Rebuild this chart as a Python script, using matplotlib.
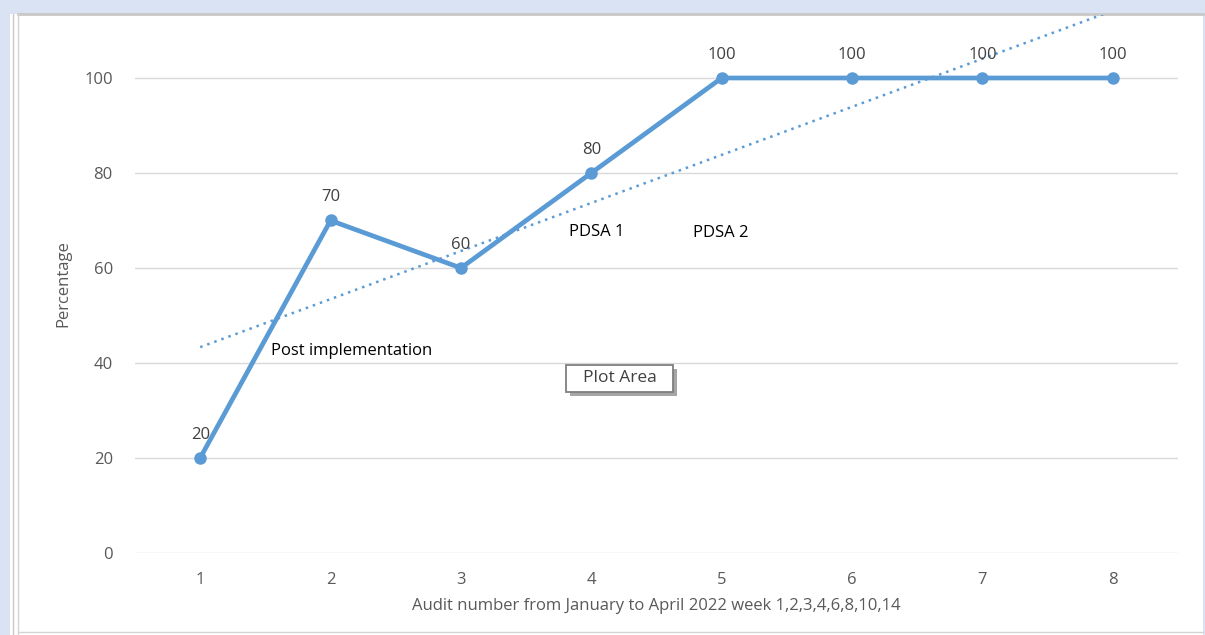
import numpy as np
import matplotlib.pyplot as plt
from matplotlib.patches import Rectangle

# audit data
audits = [1, 2, 3, 4, 5, 6, 7, 8]
percent = [20, 70, 60, 80, 100, 100, 100, 100]
yticks = [0, 20, 40, 60, 80, 100]

blue = '#5b9bd5'
grey_txt = '#595959'
plt.rcParams['font.family'] = ['Open Sans', 'DejaVu Sans']

fig = plt.figure(figsize=(12.05, 6.35), dpi=100, facecolor='#dae3f3')

# white chart area like the excel window
W, H = 1205, 635
fig.add_artist(Rectangle((10 / W, 0), 1193 / W, 621 / H, transform=fig.transFigure,
                         facecolor='white', edgecolor='none', zorder=-5))
fig.add_artist(plt.Line2D([18 / W, 1203 / W], [621 / H, 621 / H], color='#c8c8c8', lw=2, zorder=-4))
fig.add_artist(plt.Line2D([13 / W, 13 / W], [0, 621 / H], color='#c8c8c8', lw=1, zorder=-4))
fig.add_artist(plt.Line2D([18 / W, 18 / W], [0, 621 / H], color='#d4d4d4', lw=1, zorder=-4))
fig.add_artist(plt.Line2D([18 / W, 1203 / W], [3 / H, 3 / H], color='#d4d4d4', lw=1, zorder=-4))

ax = fig.add_axes([135 / W, 82 / H, 1043 / W, 538 / H], zorder=1)
ax.set_facecolor('none')
ax.set_xlim(0.5, 8.5)
ax.set_ylim(0, 113.26)
for s in ax.spines.values():
    s.set_visible(False)

ax.set_yticks(yticks)
ax.set_xticks(audits)
ax.tick_params(length=0, labelsize=12, labelcolor=grey_txt, pad=14)
ax.tick_params(axis='y', pad=16)
ax.grid(axis='y', color='#d9d9d9', lw=1)
ax.set_axisbelow(True)

# linear trendline
k, b = np.polyfit(audits, percent, 1)
xt = np.array([audits[0], audits[-1]])
ax.plot(xt, k * xt + b, ls=(0, (1, 2)), color=blue, lw=1.8, zorder=2)

ax.plot(audits, percent, color=blue, lw=3.4, marker='o', ms=8, zorder=3)
for x, y in zip(audits, percent):
    ax.annotate(str(y), (x, y), xytext=(0, 11), textcoords='offset points',
                ha='center', va='bottom', fontsize=12, color='#404040')

ax.set_ylabel('Percentage', fontsize=12, color=grey_txt, labelpad=9)
ax.set_xlabel('Audit number from January to April 2022 week 1,2,3,4,6,8,10,14',
              fontsize=12, color=grey_txt, labelpad=7)

ax.text(1.54, 42.5, 'Post implementation', fontsize=12, color='black', va='center')
ax.text(3.83, 67.5, 'PDSA 1', fontsize=12, color='black', va='center')
ax.text(4.78, 67.3, 'PDSA 2', fontsize=12, color='black', va='center')

# tooltip box with shadow
ax.add_patch(Rectangle((3.837, 33.06), 0.821, 5.68, facecolor='#a6a6a6', edgecolor='none', zorder=5))
ax.add_patch(Rectangle((3.806, 33.9), 0.821, 5.68, facecolor='white', edgecolor='#7f7f7f',
                       lw=1.3, zorder=6))
ax.text(4.216, 36.74, 'Plot Area', fontsize=12.5, color='#404040', ha='center', va='center', zorder=7)

fig.savefig('out.png', dpi=100, facecolor=fig.get_facecolor())
